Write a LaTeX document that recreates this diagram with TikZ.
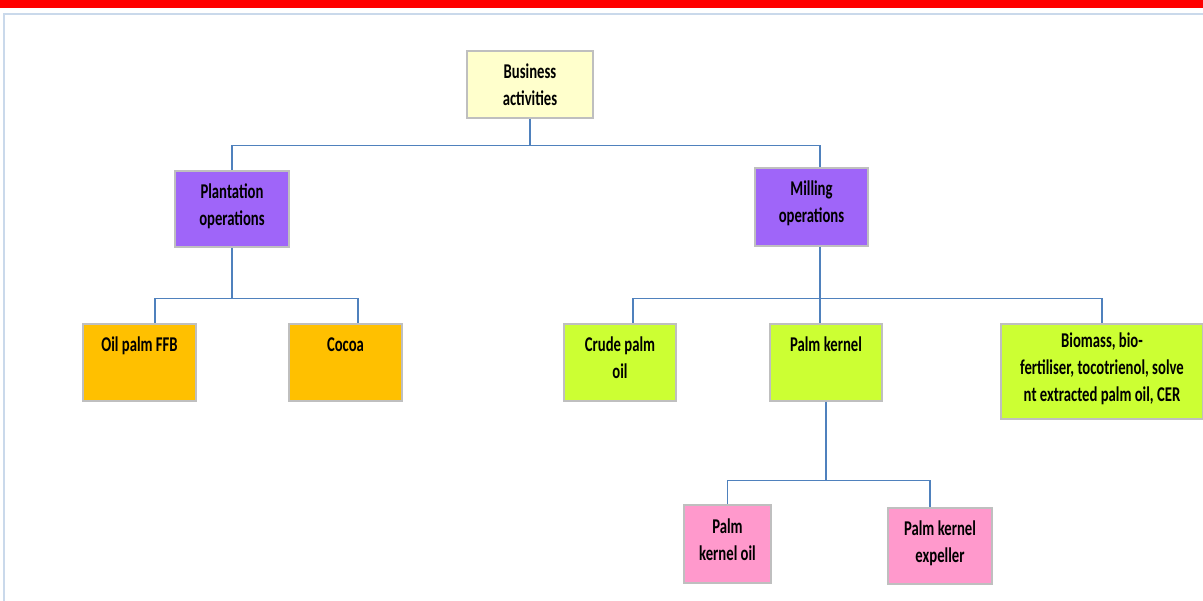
\documentclass[tikz,border=0pt]{standalone}
\usepackage{fontspec}
\setmainfont{Carlito}[FakeStretch=0.7]
\usepackage{tikz}
\newcommand{\bxt}[1]{\begin{tabular}[t]{@{}c@{}}#1\end{tabular}}
\definecolor{lnblue}{HTML}{4F81BD}
\definecolor{bxgray}{HTML}{BFBFBF}
\definecolor{cream}{HTML}{FFFFCC}
\definecolor{violet}{HTML}{9F65F9}
\definecolor{amber}{HTML}{FFC000}
\definecolor{lime}{HTML}{CCFF33}
\definecolor{pinky}{HTML}{FF99CC}
\tikzset{
  box/.style 2 args={draw=bxgray, line width=1.5pt, fill=#1, minimum width=#2,
    inner xsep=2pt, inner ysep=0pt, text height=28pt,
    font=\fontsize{21}{27}\selectfont\bfseries},
  link/.style={draw=lnblue, line width=1.4pt}
}

\begin{document}
\begin{tikzpicture}[x=1pt, y=-1pt]
\useasboundingbox (0,0) rectangle (1203,601);
% slide frame
\fill[red] (0,0) rectangle (1203,8);
\draw[color=lnblue!30, line width=1.5pt] (4,601) -- (4,14) -- (1203,14);

\node[box={cream}{126pt}, text depth=39pt] (bus) at (530,84.5) {\bxt{Business\\activities}};
\node[box={violet}{114pt}, text depth=48pt] (plant) at (232,209) {\bxt{Plantation\\operations}};
\node[box={violet}{113pt}, text depth=50pt] (mill) at (811.5,207) {\bxt{Milling\\operations}};

\node[box={amber}{113pt}, text depth=49pt] (ffb) at (139.5,362.5) {\bxt{Oil palm FFB}};
\node[box={amber}{113pt}, text depth=49pt] (cocoa) at (345.5,362.5) {\bxt{Cocoa}};
\node[box={lime}{112pt}, text depth=49pt] (cpo) at (620,362.5) {\bxt{Crude palm\\oil}};
\node[box={lime}{112pt}, text depth=49pt] (pk) at (826,362.5) {\bxt{Palm kernel}};
\node[box={lime}{202pt}, text depth=71pt, text height=24pt] (bio) at (1102,371.5)
  {\bxt{Biomass, bio-\\fertiliser, tocotrienol, solve\\nt extracted palm oil, CER}};

\node[box={pinky}{87pt}, text depth=50pt] (pko) at (727.5,544) {\bxt{Palm\\kernel oil}};
\node[box={pinky}{104pt}, text depth=48pt] (pke) at (940,546) {\bxt{Palm kernel\\expeller}};

% connectors
\draw[link] (bus.south) -- ++(0,27) coordinate (j1) -| (plant.north);
\draw[link] (j1) -| ([xshift=8.5pt]mill.north);
\draw[link] (plant.south) -- ++(0,51) coordinate (j2) -| ([xshift=15.5pt]ffb.north);
\draw[link] (j2) -| ([xshift=12.5pt]cocoa.north);
\draw[link] ([xshift=8.5pt]mill.south) -- ++(0,52) coordinate (j3) -| ([xshift=13pt]cpo.north);
\draw[link] (j3) -| (bio.north);
\draw[link] (j3) -- (j3 |- pk.north);
\draw[link] (pk.south) -- ++(0,79) coordinate (j4) -| (pko.north);
\draw[link] (j4) -| ([xshift=-10pt]pke.north);
\end{tikzpicture}
\end{document}
